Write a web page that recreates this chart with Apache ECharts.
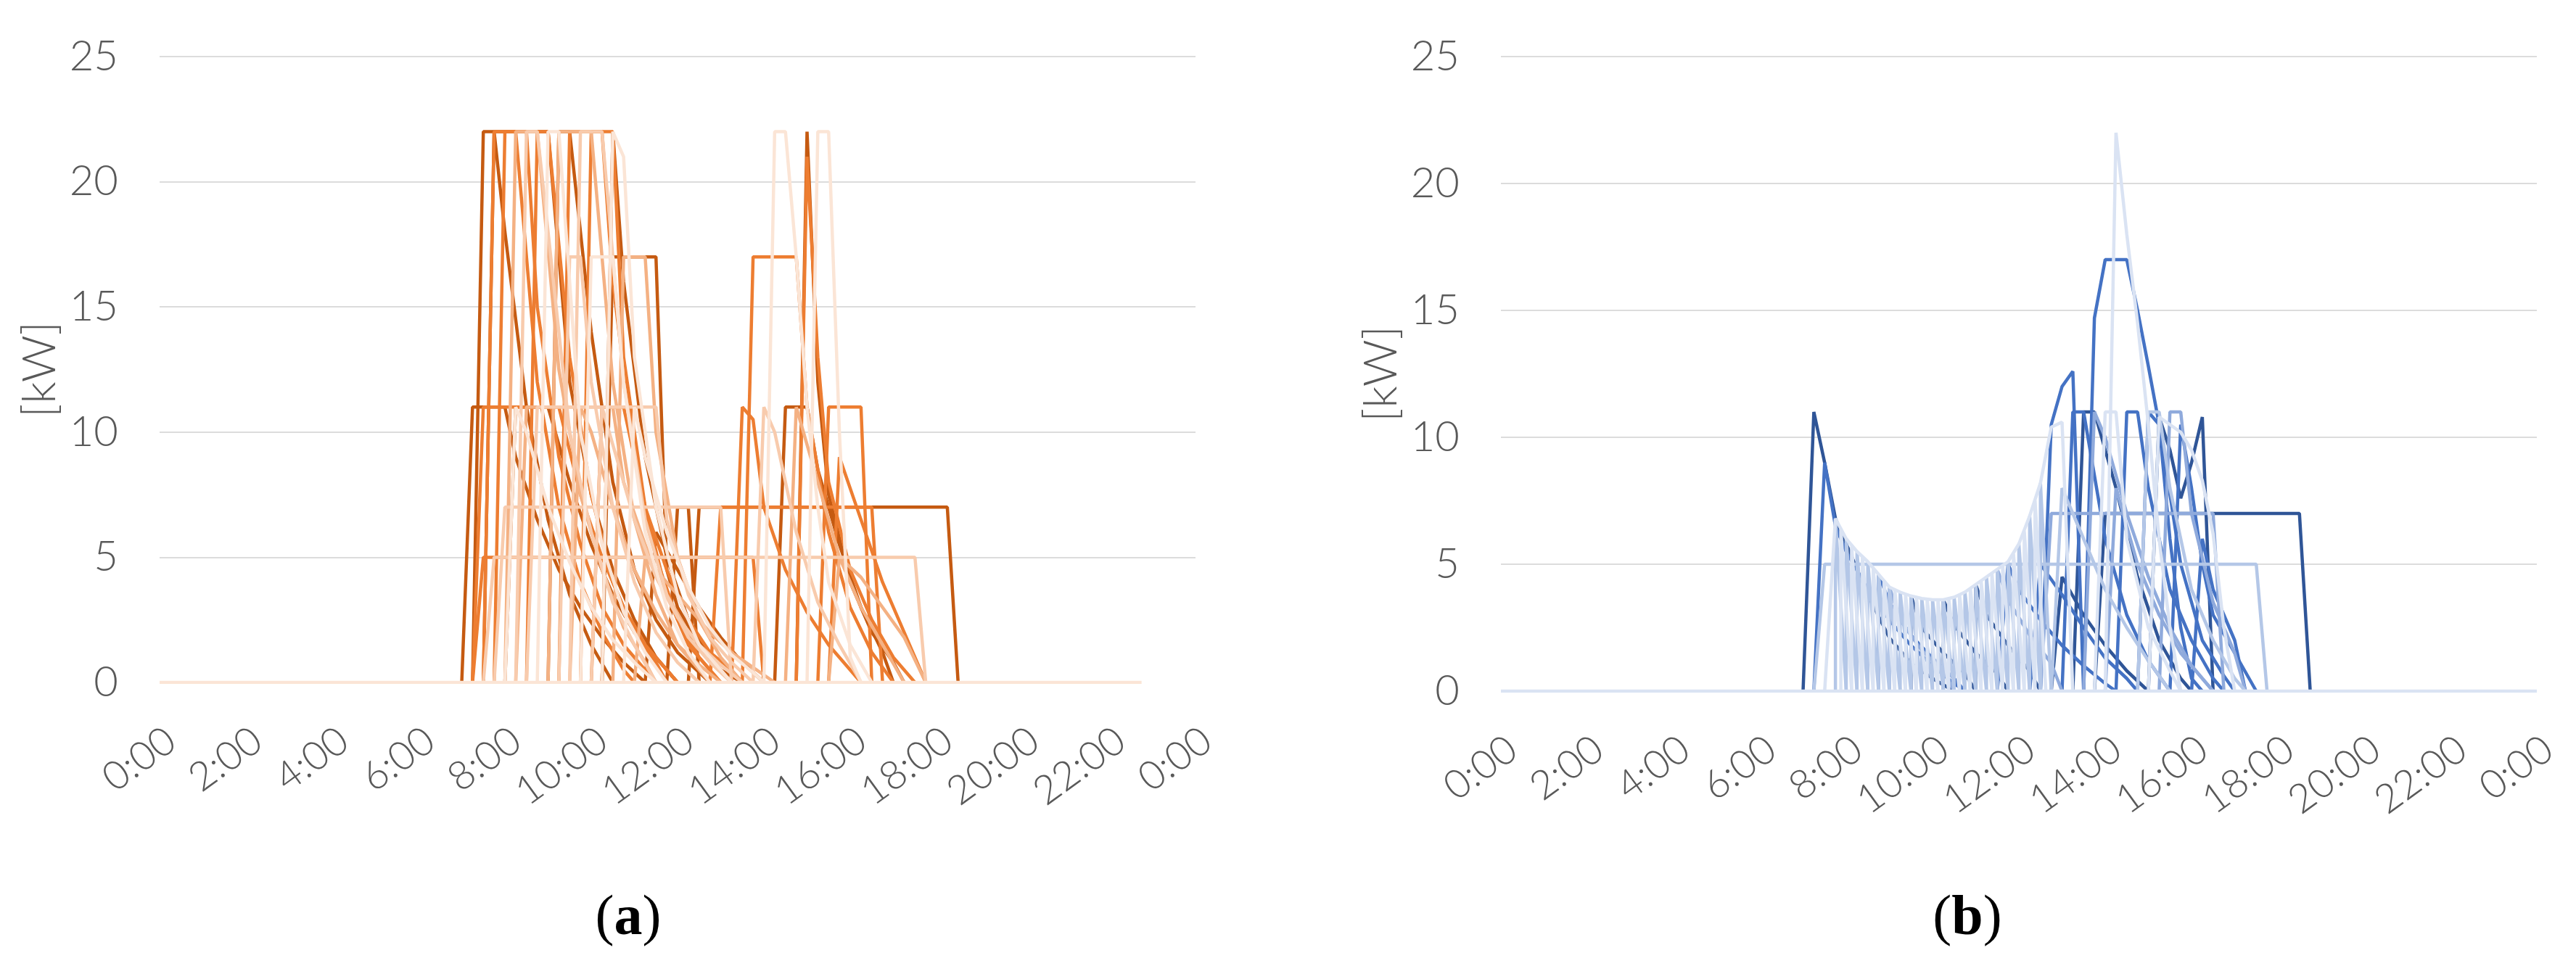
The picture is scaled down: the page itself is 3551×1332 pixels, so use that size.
<!DOCTYPE html>
<html>
<head>
<meta charset="utf-8">
<title>Charging power profiles</title>
<script src="https://cdn.jsdelivr.net/npm/echarts@6/dist/echarts.min.js"></script>
<style>
  html, body { margin: 0; padding: 0; background: #fff; }
  #chart { width: 3551px; height: 1332px; }
</style>
</head>
<body>
<div id="chart"></div>
<script>
// every point is [hour of day, kW]
const timeLabels = ['0:00', '2:00', '4:00', '6:00', '8:00', '10:00', '12:00', '14:00', '16:00', '18:00', '20:00', '22:00', '0:00']
const kwTicks = [0, 5, 10, 15, 20, 25]

// panel (a), grouped by line shade, darkest first
const aDeep = [
  [[7.0, 0], [7.25, 11], [8.0, 11], [8.25, 9], [8.75, 6.5], [9.25, 4.5], [9.75, 3], [10.25, 1.8], [10.75, 0.8], [11.25, 0]],
  [[7.25, 0], [7.5, 22], [9.0, 22], [9.25, 17], [9.5, 12], [10.0, 7.5], [10.5, 4.5], [11.0, 2.5], [11.5, 1], [12.0, 0]],
  [[7.5, 0], [7.75, 22], [8.0, 18], [8.5, 11], [9.0, 6.5], [9.5, 3.5], [10.0, 1.5], [10.5, 0]],
  [[8.0, 0], [8.25, 11], [9.0, 11], [9.5, 8], [10.0, 5.5], [10.5, 3.5], [11.0, 2], [11.5, 1], [12.0, 0]],
  [[9.0, 0], [9.25, 22], [9.5, 22], [10.0, 14], [10.5, 8], [11.0, 4.5], [11.5, 2.5], [12.0, 1.2], [12.5, 0.4], [12.75, 0]],
  [[10.25, 0], [10.5, 17], [11.5, 17], [11.75, 4.5], [12.0, 3], [12.5, 1.5], [13.0, 0.5], [13.5, 0]],
  [[10.25, 0], [10.5, 22], [10.75, 16], [11.25, 9], [11.75, 5], [12.25, 2.5], [12.75, 1], [13.25, 0]],
  [[11.25, 0], [11.5, 6], [12.0, 4.5], [12.5, 3], [13.0, 1.8], [13.5, 0.8], [14.0, 0]],
  [[11.75, 0], [12.0, 7], [12.25, 7], [12.5, 0]],
  [[12.25, 0], [12.5, 7], [18.25, 7], [18.5, 0]],
  [[14.25, 0], [14.5, 11], [15.0, 11], [15.25, 8.5], [15.75, 5.5], [16.25, 3], [16.75, 1.2], [17.0, 0]],
  [[14.75, 0], [15.0, 22], [15.25, 12], [15.5, 7.5], [16.0, 4], [16.5, 2], [17.0, 0.8], [17.25, 0]]
]
const aMid = [
  [[7.25, 0], [7.5, 5], [13.75, 5], [14.0, 0]],
  [[7.25, 0], [7.5, 11], [9.25, 11], [9.75, 7.5], [10.25, 5], [10.75, 3], [11.25, 1.5], [11.75, 0.5], [12.0, 0]],
  [[7.5, 0], [7.75, 22], [8.5, 22], [8.75, 15], [9.25, 9], [9.75, 5.5], [10.25, 3], [10.75, 1.5], [11.25, 0.5], [11.5, 0]],
  [[7.75, 0], [8.0, 22], [8.25, 22], [8.75, 12], [9.25, 7], [9.75, 4], [10.25, 2], [10.75, 0.5], [11.0, 0]],
  [[8.5, 0], [8.75, 22], [9.0, 22], [9.5, 13], [10.0, 7.5], [10.5, 4], [11.0, 2], [11.5, 0.8], [11.75, 0]],
  [[9.25, 0], [9.5, 22], [10.25, 22], [10.5, 16], [11.0, 9], [11.5, 5], [12.0, 2.5], [12.5, 1], [13.0, 0]],
  [[9.75, 0], [10.0, 22], [10.5, 22], [10.75, 13], [11.25, 7], [11.75, 3.5], [12.25, 1.5], [12.75, 0.5], [13.0, 0]],
  [[10.0, 0], [10.25, 11], [10.75, 11], [11.25, 7], [11.75, 4.5], [12.25, 2.5], [12.75, 1.2], [13.25, 0.5], [13.5, 0]],
  [[12.75, 0], [13.0, 7], [16.5, 7], [16.75, 0]],
  [[13.25, 0], [13.5, 11], [13.75, 10.5], [14.0, 7], [14.5, 4.5], [15.0, 2.8], [15.5, 1.5], [16.0, 0.5], [16.25, 0]],
  [[13.5, 0], [13.75, 17], [14.75, 17], [15.0, 11], [15.5, 6], [16.0, 3], [16.5, 1.2], [17.0, 0]],
  [[14.75, 0], [15.0, 21], [15.25, 13], [15.5, 8], [16.0, 4.5], [16.5, 2.5], [17.0, 1], [17.5, 0]],
  [[15.25, 0], [15.5, 11], [16.25, 11], [16.5, 0]],
  [[15.5, 0], [15.75, 9], [16.25, 6.5], [16.75, 4], [17.25, 2], [17.5, 1], [17.75, 0]]
]
const aSoft = [
  [[8.0, 0], [8.25, 22], [8.75, 22], [9.25, 12.5], [9.75, 7.5], [10.25, 4.5], [10.75, 2.2], [11.25, 0.8], [11.5, 0]],
  [[8.25, 0], [8.5, 11], [10.5, 11], [10.75, 8], [11.25, 5.5], [11.75, 3.5], [12.25, 2], [12.75, 1], [13.25, 0]],
  [[9.0, 0], [9.25, 22], [10.0, 22], [10.5, 12], [11.0, 6.5], [11.5, 3.5], [12.0, 1.5], [12.5, 0.5], [12.75, 0]],
  [[9.5, 0], [9.75, 11], [10.0, 10], [10.5, 7], [11.0, 4.5], [11.5, 2.8], [12.0, 1.5], [12.5, 0.7], [13.0, 0]],
  [[10.5, 0], [10.75, 17], [11.25, 17], [11.5, 10], [12.0, 5], [12.5, 2.5], [13.0, 1], [13.5, 0]],
  [[11.0, 0], [11.25, 5], [11.75, 4], [12.25, 3], [12.75, 2], [13.25, 1.2], [13.75, 0.6], [14.25, 0]],
  [[14.5, 0], [14.75, 11], [15.25, 8], [15.75, 5], [16.25, 3], [16.75, 1.5], [17.25, 0]],
  [[15.5, 0], [15.75, 5], [16.25, 4.2], [16.75, 3], [17.25, 1.8], [17.75, 0]]
]
const aLight = [
  [[7.5, 0], [7.75, 5], [17.5, 5], [17.75, 0]],
  [[7.75, 0], [8.0, 7], [13.0, 7], [13.25, 0]],
  [[8.25, 0], [8.5, 22], [8.75, 22], [9.5, 10], [10.0, 6], [10.5, 3.2], [11.0, 1.5], [11.5, 0]],
  [[8.5, 0], [8.75, 11], [11.5, 11], [11.75, 6.5], [12.25, 3.5], [12.75, 1.8], [13.25, 0.8], [13.75, 0]],
  [[9.25, 0], [9.5, 17], [9.75, 17], [10.0, 12], [10.5, 7], [11.0, 4], [11.5, 2], [12.0, 0.8], [12.5, 0]],
  [[9.5, 0], [9.75, 22], [10.25, 22], [10.75, 12], [11.25, 6.5], [11.75, 3.5], [12.25, 1.8], [12.75, 0.8], [13.25, 0]],
  [[10.0, 0], [10.25, 11], [10.5, 9.5], [11.0, 6.5], [11.5, 4.2], [12.0, 2.6], [12.5, 1.5], [13.0, 0.7], [13.5, 0]],
  [[13.75, 0], [14.0, 11], [14.25, 10], [14.75, 6], [15.25, 3.2], [15.75, 1.5], [16.25, 0]]
]
const aPale = [
  [[8.0, 0], [8.25, 11], [8.5, 10], [9.0, 7], [9.5, 4.8], [10.0, 3], [10.5, 1.7], [11.0, 0.8], [11.5, 0]],
  [[8.75, 0], [9.0, 22], [9.25, 22], [9.75, 10], [10.25, 5.5], [10.75, 2.8], [11.25, 1.2], [11.75, 0]],
  [[9.75, 0], [10.0, 17], [10.5, 17], [10.75, 12], [11.25, 6], [11.75, 3], [12.25, 1.2], [12.75, 0]],
  [[10.25, 0], [10.5, 22], [10.75, 21], [11.0, 13], [11.5, 7], [12.0, 3.5], [12.5, 1.5], [13.0, 0.5], [13.25, 0]],
  [[10.75, 0], [11.0, 11], [11.25, 9], [11.75, 6], [12.25, 3.8], [12.75, 2.2], [13.25, 1.1], [13.75, 0.4], [14.0, 0]],
  [[14.0, 0], [14.25, 22], [14.5, 22], [14.75, 17], [15.0, 11], [15.25, 7], [15.5, 4], [16.0, 1.5], [16.5, 0]],
  [[15.0, 0], [15.25, 22], [15.5, 22], [15.75, 10], [16.0, 1], [16.25, 0]],
  [[0, 0], [22.75, 0]]
]

// panel (b)
const bDeep = [
  [[7.0, 0], [7.25, 11], [7.5, 9], [7.75, 6.8], [8.0, 5.8], [8.5, 3.8], [9.0, 2.1], [9.5, 1.1], [10.0, 0.5], [10.5, 0]],
  [[9.5, 0], [9.5, 3.75], [9.75, 2.5], [10.25, 1.5], [10.75, 0.7], [11.0, 0]],
  [[10.25, 0], [10.25, 3.6], [10.5, 2.6], [11.0, 1.5], [11.5, 0.7], [11.75, 0]],
  [[11.0, 0], [11.0, 4.2], [11.25, 3], [11.75, 1.8], [12.25, 0.8], [12.5, 0]],
  [[12.75, 0], [13.0, 4.5], [13.5, 3], [14.0, 1.8], [14.5, 0.8], [15.0, 0]],
  [[13.25, 0], [13.5, 11], [13.75, 11], [14.25, 8], [14.75, 4.5], [15.25, 2], [15.75, 0.5], [16.0, 0]],
  [[13.75, 0], [14.0, 7], [18.5, 7], [18.75, 0]],
  [[15.0, 0], [15.25, 10.8], [15.5, 9.5], [15.75, 7.6], [16.0, 9], [16.25, 10.8], [16.5, 0]]
]
const bMid = [
  [[7.25, 0], [7.5, 9], [7.75, 6.5], [8.0, 5.5], [8.5, 4], [9.0, 2.8], [9.5, 1.8], [10.0, 1], [10.5, 0.3], [10.75, 0]],
  [[8.75, 0], [8.75, 4.6], [9.0, 3.5], [9.5, 2.2], [10.0, 1.3], [10.5, 0.5], [10.75, 0]],
  [[11.5, 0], [11.75, 5], [12.0, 4], [12.5, 2.8], [13.0, 1.8], [13.5, 1], [14.0, 0.3], [14.25, 0]],
  [[12.25, 0], [12.5, 5], [13.0, 3.8], [13.5, 2.5], [14.0, 1.3], [14.5, 0.5], [14.75, 0]],
  [[12.5, 0], [12.75, 10.5], [13.0, 12], [13.25, 12.6], [13.5, 0]],
  [[13.0, 0], [13.25, 11], [13.5, 11], [14.0, 6], [14.5, 3], [15.0, 1.2], [15.5, 0]],
  [[13.5, 0], [13.75, 14.7], [14.0, 17], [14.5, 17], [14.75, 15], [15.0, 12.8], [15.25, 10.5], [15.5, 6], [15.75, 2.5], [16.0, 0.5], [16.25, 0]],
  [[14.25, 0], [14.5, 11], [14.75, 11], [15.0, 8], [15.5, 4], [16.0, 2], [16.5, 0.5], [16.75, 0]],
  [[14.75, 0], [15.0, 11], [15.25, 10.5], [15.75, 5], [16.25, 2], [16.75, 0.6], [17.0, 0]],
  [[15.5, 0], [15.75, 10.5], [16.0, 8], [16.25, 5], [16.5, 3], [17.0, 1.5], [17.5, 0]],
  [[16.0, 0], [16.25, 6], [16.5, 4], [17.0, 2], [17.25, 0]]
]
const bSoft = [
  [[12.5, 0], [12.75, 7], [16.5, 7], [16.75, 0]],
  [[13.5, 0], [13.75, 11], [14.0, 10], [14.5, 7], [15.0, 4.5], [15.5, 2.5], [16.0, 1], [16.5, 0]],
  [[14.0, 0], [14.25, 8], [14.75, 5], [15.25, 3], [15.75, 1.5], [16.25, 0.5], [16.5, 0]],
  [[15.25, 0], [15.5, 11], [15.75, 11], [16.0, 7], [16.5, 3.5], [17.0, 1.5], [17.25, 0]],
  [[9.0, 0], [9.0, 4.1], [9.25, 2.8], [9.75, 1.6], [10.25, 0.8], [10.5, 0]],
  [[11.5, 0], [11.5, 4.8], [11.75, 3.6], [12.25, 2.2], [12.75, 1.1], [13.0, 0]]
]
const bLight = [
  [[7.25, 0], [7.5, 5], [17.5, 5], [17.75, 0]],
  [[7.75, 0], [7.75, 6.8], [8.0, 0]],
  [[8.0, 0], [8.0, 6.0], [8.25, 0]],
  [[8.25, 0], [8.25, 5.5], [8.5, 0]],
  [[8.5, 0], [8.5, 5.1], [8.75, 0]],
  [[8.75, 0], [8.75, 4.6], [9.0, 0]],
  [[9.0, 0], [9.0, 4.1], [9.25, 0]],
  [[9.25, 0], [9.25, 3.9], [9.5, 0]],
  [[9.5, 0], [9.5, 3.75], [9.75, 0]],
  [[9.75, 0], [9.75, 3.65], [10.0, 0]],
  [[10.0, 0], [10.0, 3.6], [10.25, 0]],
  [[10.25, 0], [10.25, 3.6], [10.5, 0]],
  [[10.5, 0], [10.5, 3.7], [10.75, 0]],
  [[10.75, 0], [10.75, 3.9], [11.0, 0]],
  [[11.0, 0], [11.0, 4.2], [11.25, 0]],
  [[11.25, 0], [11.25, 4.5], [11.5, 0]],
  [[11.5, 0], [11.5, 4.8], [11.75, 0]],
  [[11.75, 0], [11.75, 5.1], [12.0, 0]],
  [[12.0, 0], [12.0, 5.8], [12.25, 0]],
  [[12.25, 0], [12.25, 6.9], [12.5, 0]],
  [[12.5, 0], [12.5, 8.2], [12.75, 0]],
  [[12.75, 0], [13.0, 8], [13.5, 6], [14.0, 4], [14.5, 2.5], [15.0, 1.2], [15.5, 0]],
  [[14.75, 0], [15.0, 11], [15.25, 11], [15.5, 8], [16.0, 4], [16.5, 2], [17.0, 0.5], [17.25, 0]]
]
const bPale = [
  [[7.875, 0], [7.875, 6.4], [8.125, 0]],
  [[8.125, 0], [8.125, 5.7], [8.375, 0]],
  [[8.375, 0], [8.375, 5.3], [8.625, 0]],
  [[8.625, 0], [8.625, 4.85], [8.875, 0]],
  [[8.875, 0], [8.875, 4.35], [9.125, 0]],
  [[9.125, 0], [9.125, 4.0], [9.375, 0]],
  [[9.375, 0], [9.375, 3.8], [9.625, 0]],
  [[9.625, 0], [9.625, 3.7], [9.875, 0]],
  [[9.875, 0], [9.875, 3.6], [10.125, 0]],
  [[10.125, 0], [10.125, 3.6], [10.375, 0]],
  [[10.375, 0], [10.375, 3.65], [10.625, 0]],
  [[10.625, 0], [10.625, 3.8], [10.875, 0]],
  [[10.875, 0], [10.875, 4.05], [11.125, 0]],
  [[11.125, 0], [11.125, 4.35], [11.375, 0]],
  [[11.375, 0], [11.375, 4.65], [11.625, 0]],
  [[11.625, 0], [11.625, 4.95], [11.875, 0]],
  [[11.875, 0], [11.875, 5.4], [12.125, 0]],
  [[12.125, 0], [12.125, 6.3], [12.375, 0]],
  [[12.375, 0], [12.375, 7.5], [12.625, 0]],
  [[7.5, 0], [7.75, 6.8], [8.0, 6.0], [8.25, 5.5], [8.5, 5.1], [8.75, 4.6], [9.0, 4.1], [9.25, 3.9], [9.5, 3.75], [9.75, 3.65], [10.0, 3.6], [10.25, 3.6], [10.5, 3.7], [10.75, 3.9], [11.0, 4.2], [11.25, 4.5], [11.5, 4.8], [11.75, 5.1], [12.0, 5.8], [12.25, 6.9], [12.5, 8.2], [12.75, 10.4], [13.0, 10.6], [13.25, 0]],
  [[13.75, 0], [14.0, 11], [14.25, 11], [14.5, 6], [15.0, 2.5], [15.5, 0.8], [15.75, 0]],
  [[14.0, 0], [14.25, 22], [14.5, 18], [14.75, 14.5], [15.0, 10.5], [15.25, 6], [15.5, 2.5], [15.75, 0]],
  [[15.0, 0], [15.25, 10.8], [15.75, 10.2], [16.0, 9.5], [16.25, 8.3], [16.5, 6.2], [16.75, 2.5], [17.0, 0]],
  [[0, 0], [24, 0]]
]

const orangeShades = ['#c55a11', '#ed7d31', '#f4b183', '#f8cbad', '#fbe5d6']
const blueShades = ['#2f5597', '#4472c4', '#8faadc', '#b4c7e7', '#dae3f3']

const labelFont = { fontFamily: 'Lato', fontWeight: 300, fontSize: 58, color: '#595959' }

function toSeries (groups, shades, axis) {
  const out = []
  groups.forEach(function (sessions, g) {
    sessions.forEach(function (pts) {
      out.push({
        type: 'line',
        xAxisIndex: axis,
        yAxisIndex: axis,
        data: pts,
        symbol: 'none',
        silent: true,
        lineStyle: { color: shades[g], width: 4.5 }
      })
    })
  })
  return out
}

function xAxisFor (idx) {
  return {
    type: 'value',
    gridIndex: idx,
    min: 0,
    max: 24,
    interval: 2,
    axisLine: { show: false },
    axisTick: { show: false },
    splitLine: { show: false },
    axisLabel: Object.assign({}, labelFont, {
      fontSize: 55,
      rotate: 36,
      margin: 52,
      align: 'right',
      verticalAlign: 'top',
      formatter: function (v) { return timeLabels[v / 2] }
    })
  }
}

function yAxisFor (idx) {
  return {
    type: 'value',
    gridIndex: idx,
    min: kwTicks[0],
    max: kwTicks[kwTicks.length - 1],
    interval: 5,
    name: '[kW]',
    nameLocation: 'middle',
    nameRotate: 90,
    nameGap: 133,
    nameTextStyle: Object.assign({}, labelFont, { fontSize: 64 }),
    axisLine: { show: false },
    axisTick: { show: false },
    axisLabel: Object.assign({ margin: 57 }, labelFont),
    splitLine: {
      lineStyle: { color: ['rgba(0,0,0,0)', '#dcdcdc', '#dcdcdc', '#dcdcdc', '#dcdcdc', '#dcdcdc'], width: 2 }
    }
  }
}

function caption (letter, cx) {
  return {
    type: 'text',
    x: cx,
    y: 1268,
    style: {
      text: '{p|(}{b|' + letter + '}{p|)}',
      align: 'center',
      verticalAlign: 'middle',
      rich: {
        p: { fontFamily: 'Liberation Serif', fontSize: 78, fill: '#000' },
        b: { fontFamily: 'Liberation Serif', fontSize: 78, fontWeight: 'bold', fill: '#000' }
      }
    }
  }
}

const chart = echarts.init(document.getElementById('chart'))
chart.setOption({
  animation: false,
  backgroundColor: '#fff',
  grid: [
    { left: 220, top: 78, width: 1428, height: 863 },
    { left: 2069, top: 78, width: 1428, height: 875 }
  ],
  xAxis: [xAxisFor(0), xAxisFor(1)],
  yAxis: [yAxisFor(0), yAxisFor(1)],
  graphic: [caption('a', 866), caption('b', 2712)],
  series: toSeries([aDeep, aMid, aSoft, aLight, aPale], orangeShades, 0)
    .concat(toSeries([bDeep, bMid, bSoft, bLight, bPale], blueShades, 1))
})
</script>
</body>
</html>
